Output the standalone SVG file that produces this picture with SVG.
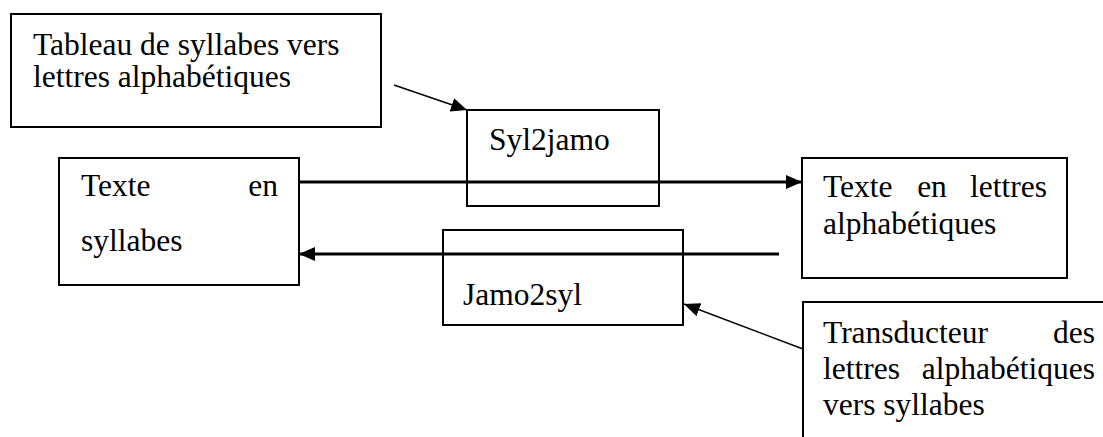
<svg xmlns="http://www.w3.org/2000/svg" width="1103" height="437" viewBox="0 0 1103 437">
<style>
.box{fill:#fff;stroke:#000;stroke-width:2}
.t{font-family:'Liberation Serif','DejaVu Serif','Times New Roman',serif;font-size:31.5px;fill:#000}
.thin{stroke:#000;stroke-width:1.5;fill:none}
.thick{stroke:#000;stroke-width:3;fill:none}
</style>
<defs>
<marker id="ah" viewBox="0 0 16 14" refX="16" refY="7" markerWidth="16" markerHeight="14" markerUnits="userSpaceOnUse" orient="auto">
<path d="M0,0 L16,7 L0,14 z" fill="#000"/>
</marker>
</defs>
<rect width="1103" height="437" fill="#fff"/>
<g id="n-tableau">
<rect class="box" x="11" y="14" width="370" height="113"/>
<text class="t" x="33" y="55">Tableau de syllabes vers</text>
<text class="t" x="33" y="87">lettres alphabétiques</text>
</g>
<g id="n-syl2jamo">
<rect class="box" x="467" y="110" width="192" height="96" style="fill:none"/>
<text class="t" x="489" y="150">Syl2jamo</text>
</g>
<g id="n-jamo2syl">
<rect class="box" x="443" y="230" width="240" height="95" style="fill:none"/>
<text class="t" x="463" y="305">Jamo2syl</text>
</g>
<g id="n-texte-syllabes">
<rect class="box" x="59" y="158" width="240" height="127"/>
<text class="t" x="81" y="196">Texte</text>
<text class="t" x="278" y="196" text-anchor="end">en</text>
<text class="t" x="81" y="251">syllabes</text>
</g>
<g id="n-texte-lettres">
<rect class="box" x="802" y="158" width="265" height="120"/>
<text class="t" x="823" y="197">Texte</text>
<text class="t" x="932" y="197" text-anchor="middle">en</text>
<text class="t" x="1047" y="197" text-anchor="end">lettres</text>
<text class="t" x="823" y="234">alphabétiques</text>
</g>
<g id="n-transducteur">
<rect class="box" x="803" y="302" width="310" height="150"/>
<text class="t" x="823" y="343">Transducteur</text>
<text class="t" x="1095" y="343" text-anchor="end">des</text>
<text class="t" x="823" y="379">lettres</text>
<text class="t" x="1095" y="379" text-anchor="end">alphabétiques</text>
<text class="t" x="823" y="415">vers syllabes</text>
</g>
<g id="connectors">
<line class="thick" x1="299" y1="182" x2="802" y2="182" marker-end="url(#ah)"/>
<line class="thick" x1="779" y1="254" x2="299" y2="254" marker-end="url(#ah)"/>
<line class="thin" x1="394" y1="85" x2="467" y2="110" marker-end="url(#ah)"/>
<line class="thin" x1="803" y1="349" x2="684" y2="304" marker-end="url(#ah)"/>
</g>
</svg>
